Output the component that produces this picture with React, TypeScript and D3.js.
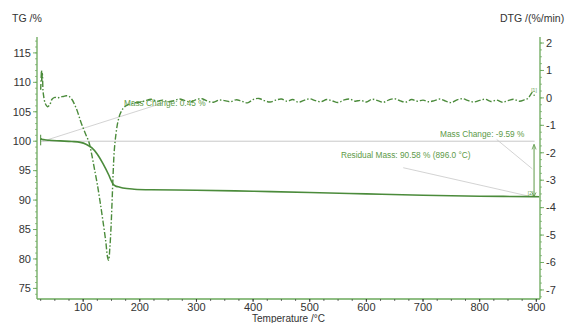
import React from "react";
import * as d3 from "d3";

const tgTicks = [75, 80, 85, 90, 95, 100, 105, 110, 115];
const dtgTicks = [-7, -6, -5, -4, -3, -2, -1, 0, 1, 2];
const tempTicks = [100, 200, 300, 400, 500, 600, 700, 800, 900];

const tgTemp = [25, 26, 28, 32, 40, 60, 80, 95, 105, 115, 125, 135, 145, 150, 153, 157, 162, 170, 190, 220, 300, 400, 500, 600, 700, 800, 896, 905];
const tgValue = [100.2, 100.4, 100.3, 100.25, 100.15, 100.05, 99.95, 99.8, 99.5, 98.9, 97.8, 96.2, 94.3, 93.2, 92.7, 92.4, 92.25, 92.05, 91.85, 91.75, 91.68, 91.5, 91.3, 91.05, 90.82, 90.66, 90.58, 90.56];

const dtgTemp = [25, 26.5, 27, 28, 29, 30, 33, 37, 41, 45, 50, 55, 60, 65, 70, 75, 80, 85, 90, 95, 100, 105, 110, 115, 120, 125, 130, 135, 140, 143, 145, 147, 149, 151, 153, 155, 158, 161, 165, 170, 176, 183, 190, 200,
  210, 220, 230, 240, 250, 260, 270, 280, 290, 300, 310, 320, 330, 340, 350, 360, 370, 380, 390, 400, 410, 420, 430, 440, 450, 460, 470, 480, 490, 500,
  510, 520, 530, 540, 550, 560, 570, 580, 590, 600, 610, 620, 630, 640, 650, 660, 670, 680, 690, 700, 710, 720, 730, 740, 750, 760, 770, 780, 790, 800,
  810, 820, 830, 840, 850, 860, 870, 880, 885, 890, 893, 896, 898];
const dtgValue = [0.3, 1.0, 0.6, 0.9, 0.3, 0.1, -0.2, -0.32, -0.25, -0.05, 0.02, 0.0, 0.04, 0.05, 0.08, 0.06, -0.05, -0.25, -0.5, -0.82, -1.1, -1.35, -1.6, -2.05, -2.6, -3.15, -3.8, -4.5, -5.25, -5.8, -5.92, -5.5, -4.8, -3.8, -2.7, -1.9, -1.3, -0.9, -0.6, -0.4, -0.28, -0.22, -0.18, -0.16,
  -0.1, -0.05, -0.12, -0.08, -0.14, -0.1, -0.04, -0.1, -0.15, -0.06, -0.03, -0.12, -0.16, -0.08, -0.1, -0.14, -0.07, -0.12, -0.18, -0.06, -0.02, -0.1, -0.15, -0.08, -0.04, -0.12, -0.06, -0.16, -0.09, -0.03,
  -0.1, -0.14, -0.06, -0.11, -0.17, -0.08, -0.04, -0.12, -0.09, -0.15, -0.05, -0.1, -0.16, -0.07, -0.03, -0.11, -0.15, -0.06, -0.12, -0.08, -0.14, -0.1, -0.04, -0.12, -0.17, -0.07, -0.03, -0.1, -0.15, -0.09,
  -0.05, -0.13, -0.08, -0.16, -0.1, -0.05, -0.12, -0.06, -0.02, 0.12, 0.2, 0.1, 0.15];

const AXIS = "#6aa85a";
const CURVE = "#4b8b3b";
const LABEL = "#5d9a48";
const TEXT = "#333333";
const GUIDE = "#c8c8c8";
const FONT = "Liberation Sans, Arial, sans-serif";

export default function App() {
  const W = 566, H = 323;
  const x = d3.scaleLinear().domain([18.5, 906.5]).range([37, 540]);
  const yTG = d3.scaleLinear().domain([73.2, 117.7]).range([299, 37]);
  const yDTG = d3.scaleLinear().domain([-7.33, 2.22]).range([299, 37]);

  const tgLine = d3.line<number>().x((d, i) => x(tgTemp[i])).y((d) => yTG(d)).curve(d3.curveMonotoneX)(tgValue) || "";
  const dtgLine = d3.line<number>().x((d, i) => x(dtgTemp[i])).y((d) => yDTG(d)).curve(d3.curveCatmullRom)(dtgValue) || "";

  const tgMinor = d3.range(74, 118, 1);
  const dtgMinor = d3.range(-7.25, 2.25, 0.25);
  const tempMinor = d3.range(25, 906, 25);

  const x0 = x.range()[0], x1 = x.range()[1];
  const yb = yTG.range()[0], yt = yTG.range()[1];

  return (
    <svg width={W} height={H} style={{ position: "absolute", left: 0, top: 0, background: "#fff" }} fontFamily={FONT}>
      <rect x={0} y={0} width={W} height={H} fill="#fff" />
      {/* guide lines */}
      <line x1={x(25)} x2={x(897)} y1={yTG(100)} y2={yTG(100)} stroke={GUIDE} strokeWidth={1} />
      <line x1={x(29)} y1={yTG(100)} x2={x(241)} y2={yTG(106.5)} stroke={GUIDE} strokeWidth={0.8} />
      <line x1={x(830)} y1={yTG(100.3)} x2={x(893)} y2={yTG(95.3)} stroke={GUIDE} strokeWidth={0.8} />
      <line x1={x(665)} y1={yTG(95.5)} x2={x(890)} y2={yTG(90.6)} stroke={GUIDE} strokeWidth={0.8} />
      {/* mass change arrow */}
      <line x1={x(896)} x2={x(896)} y1={yTG(99.3)} y2={yTG(90.6)} stroke={LABEL} strokeWidth={1} />
      <path d={`M${x(896) - 2},${yTG(98.6)} L${x(896)},${yTG(99.5)} L${x(896) + 2},${yTG(98.6)}`} fill="none" stroke={LABEL} strokeWidth={0.8} />
      <path d={`M${x(896) - 2},${yTG(91.3)} L${x(896)},${yTG(90.6)} L${x(896) + 2},${yTG(91.3)}`} fill="none" stroke={LABEL} strokeWidth={0.8} />

      {/* curves */}
      <path d={dtgLine} fill="none" stroke={CURVE} strokeWidth={1.4} strokeDasharray="6 2 1.5 2" />
      <path d={tgLine} fill="none" stroke={CURVE} strokeWidth={1.6} />
      <line x1={x(25)} x2={x(25)} y1={yTG(99.3)} y2={yTG(101.1)} stroke={CURVE} strokeWidth={1} />

      {/* annotation texts */}
      <text x={x(172)} y={yTG(106.5) + 3} fontSize={8.3} fill={LABEL}>Mass Change: 0.45 %</text>
      <text x={x(730)} y={yTG(101.2) + 3} fontSize={8.3} fill={LABEL}>Mass Change: -9.59 %</text>
      <text x={x(555)} y={yTG(97.7) + 3} fontSize={8.3} fill={LABEL}>Residual Mass: 90.58 % (896.0 °C)</text>
      <text x={x(891)} y={yDTG(0.2)} fontSize={5} fill={LABEL}>[1]</text>
      <text x={x(885)} y={yTG(90.8)} fontSize={5} fill={LABEL}>[2]</text>

      {/* left axis */}
      <line x1={x0} x2={x0} y1={yt} y2={yb} stroke={AXIS} strokeWidth={1.3} />
      {tgMinor.map((v) => (
        <line key={"tm" + v} x1={x0 - 2} x2={x0} y1={yTG(v)} y2={yTG(v)} stroke={AXIS} strokeWidth={0.7} />
      ))}
      {tgTicks.map((v) => (
        <g key={"t" + v}>
          <line x1={x0 - 4} x2={x0} y1={yTG(v)} y2={yTG(v)} stroke={AXIS} strokeWidth={0.9} />
          <text x={x0 - 6} y={yTG(v)} dy="0.35em" textAnchor="end" fontSize={11} fill={TEXT}>{v}</text>
        </g>
      ))}

      {/* right axis */}
      <line x1={x1} x2={x1} y1={yt} y2={yb} stroke={AXIS} strokeWidth={1.3} />
      {dtgMinor.map((v) => (
        <line key={"dm" + v} x1={x1} x2={x1 + 2} y1={yDTG(v)} y2={yDTG(v)} stroke={AXIS} strokeWidth={0.7} />
      ))}
      {dtgTicks.map((v) => (
        <g key={"d" + v}>
          <line x1={x1} x2={x1 + 4} y1={yDTG(v)} y2={yDTG(v)} stroke={AXIS} strokeWidth={0.9} />
          <text x={x1 + 6} y={yDTG(v)} dy="0.35em" textAnchor="start" fontSize={11} fill={TEXT}>{v}</text>
        </g>
      ))}

      {/* bottom axis */}
      <line x1={x0} x2={x1} y1={yb} y2={yb} stroke={AXIS} strokeWidth={1.3} />
      {tempMinor.map((v) => (
        <line key={"xm" + v} x1={x(v)} x2={x(v)} y1={yb} y2={yb + 2} stroke={TEXT} strokeWidth={0.7} />
      ))}
      {tempTicks.map((v) => (
        <g key={"x" + v}>
          <line x1={x(v)} x2={x(v)} y1={yb} y2={yb + 3} stroke={TEXT} strokeWidth={0.9} />
          <text x={x(v)} y={yb + 12} textAnchor="middle" fontSize={11} fill={TEXT}>{v}</text>
        </g>
      ))}

      {/* axis titles */}
      <text x={12} y={22} fontSize={10.5} fill={TEXT}>TG /%</text>
      <text x={500} y={22} fontSize={10.5} fill={TEXT}>DTG /(%/min)</text>
      <text x={(x0 + x1) / 2} y={322} textAnchor="middle" fontSize={10} fill={TEXT}>Temperature /°C</text>
    </svg>
  );
}
